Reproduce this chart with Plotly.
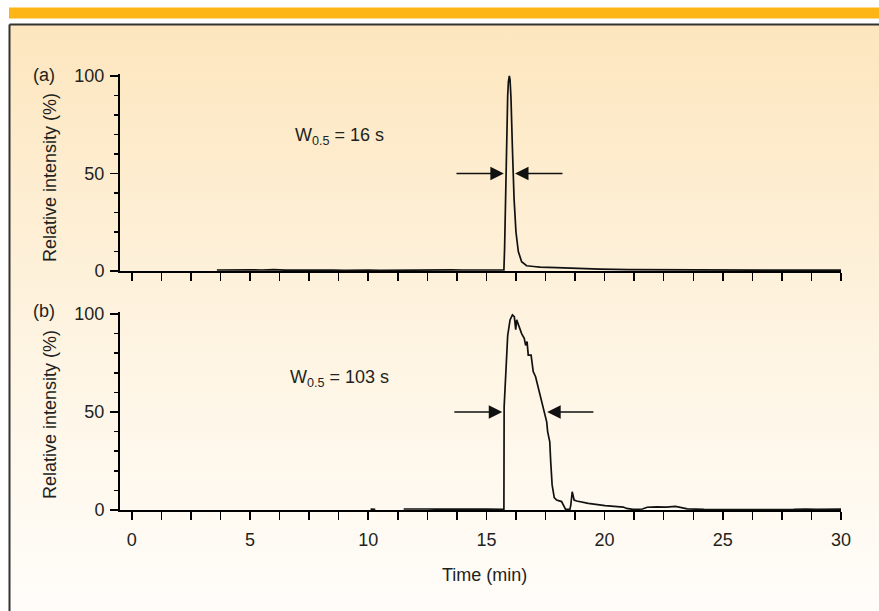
import base64
import plotly.graph_objects as go

# ---------------- data ----------------
a_time = [3.6, 4.0, 4.5, 5.0, 5.5, 6.0, 6.5, 7.0, 7.5, 8.0, 8.5, 9.0, 9.5, 10.0, 10.5,
          11.0, 11.5, 12.0, 12.5, 13.0, 13.5, 14.0, 14.5, 15.0, 15.5, 15.74, 15.77,
          15.81, 15.85, 15.9, 15.93, 15.97, 16.0, 16.04, 16.1, 16.17, 16.25, 16.35,
          16.49, 16.7, 17.0, 17.27, 17.97, 18.67, 19.8, 21.0, 22.0, 23.0, 24.0, 25.0,
          26.0, 27.0, 28.0, 29.0, 30.0]
a_int = [0.5, 0.6, 0.4, 0.6, 0.5, 0.7, 0.4, 0.5, 0.6, 0.4, 0.5, 0.3, 0.5, 0.4, 0.3,
         0.4, 0.5, 0.6, 0.4, 0.5, 0.6, 0.5, 0.4, 0.5, 0.4, 0.5, 12,
         37, 71, 90, 97, 100, 98, 88.6, 63, 37, 20, 10,
         4.8, 2.7, 2.3, 2.0, 1.7, 1.3, 1.0, 0.7, 0.6, 0.5, 0.4, 0.4,
         0.4, 0.4, 0.4, 0.4, 0.4]

b_time = [10.1, 10.3, None, 11.5, 12.0, 12.5, 13.0, 13.5, 14.0, 14.5, 15.0, 15.5,
          15.72, 15.74, 15.75, 15.83, 15.9, 16.0, 16.1, 16.18, 16.24, 16.28, 16.38,
          16.49, 16.6, 16.66, 16.72, 16.77, 16.89, 16.98, 17.08, 17.17, 17.27, 17.36,
          17.48, 17.55, 17.59, 17.64, 17.68, 17.72, 17.78, 17.87, 17.97, 18.18, 18.28,
          18.35, 18.53, 18.57, 18.63, 18.71, 18.82, 19.31, 20.02, 20.79, 20.93, 21.2,
          21.6, 21.8, 22.2, 22.6, 23.0, 23.5, 24.2, 25.0, 26.0, 27.0, 28.0, 28.5,
          29.0, 29.5, 30.0]
b_int = [0.4, 0.3, None, 0.5, 0.6, 0.5, 0.4, 0.5, 0.4, 0.5, 0.4, 0.5,
         0.4, 0.3, 52.7, 74, 89, 97, 99.5, 98.6, 92, 97, 93.5,
         90, 87.6, 84, 85.9, 79, 79, 70.6, 68, 63.8, 58.7, 53.6,
         48.5, 45, 40, 37.4, 34.8, 24.6, 12.8, 6.3, 5.1, 4.3, 1.7,
         0.3, 0.3, 2.5, 9.3, 5.1, 4.6, 3.4, 2.2, 1.5, 0.8, 0.3,
         0.5, 1.4, 1.6, 1.5, 1.8, 0.6, 0.3, 0.2, 0.2, 0.2, 0.3, 0.5,
         0.3, 0.5, 0.4]

# half-width arrows: (tail_x, tip_x, level)
a_arrows = [(13.67, 15.74, 50), (18.28, 16.21, 50)]
b_arrows = [(13.58, 15.67, 50), (19.59, 17.57, 50)]

panel_labels = ["(a)", "(b)"]
width_labels = ["W<sub>0.5</sub> = 16 s", "W<sub>0.5</sub> = 103 s"]
y_title = "Relative intensity (%)"
x_title = "Time (min)"

# ---------------- figure ----------------
W, H = 879, 611
FONT = "Liberation Sans, Arial, Helvetica, sans-serif"
TXT = "#231f20"
FS = 18


def px(x):
    return x / W


def py(y):
    return 1 - y / H


fig = go.Figure()
line = dict(color="#111111", width=1.7)
fig.add_trace(go.Scatter(x=a_time, y=a_int, mode="lines", line=line,
                         xaxis="x", yaxis="y", connectgaps=False, hoverinfo="skip"))
fig.add_trace(go.Scatter(x=b_time, y=b_int, mode="lines", line=line,
                         xaxis="x2", yaxis="y2", connectgaps=False, hoverinfo="skip"))

xdom = [px(120), px(841)]
ya_dom = [py(271), py(271 - 1.95 * 101)]
yb_dom = [py(510), py(510 - 1.96 * 101)]

common_x = dict(domain=xdom, range=[-0.5, 30], tick0=0, dtick=5, ticks="outside",
                ticklen=8, tickwidth=1.5, tickcolor="black", showline=True,
                linewidth=2, linecolor="black", showgrid=False, zeroline=False,
                automargin=False,
                minor=dict(dtick=1.25, tick0=0, ticks="outside", ticklen=8,
                           tickwidth=1.5, tickcolor="black", showgrid=False),
                tickfont=dict(family=FONT, size=FS, color=TXT), fixedrange=True)
common_y = dict(range=[0, 101], tick0=0, dtick=50, ticks="outside", ticklen=8,
                tickwidth=1.5, tickcolor="black", showline=True, linewidth=2,
                linecolor="black", showgrid=False, zeroline=False,
                automargin=False,
                minor=dict(dtick=10, tick0=0, ticks="outside", ticklen=4,
                           tickwidth=1.5, tickcolor="black", showgrid=False),
                tickfont=dict(family=FONT, size=FS, color=TXT),
                ticklabelstandoff=2, fixedrange=True)

fig.update_layout(
    width=W, height=H, margin=dict(l=0, r=0, t=0, b=0, pad=0, autoexpand=False),
    paper_bgcolor="white", plot_bgcolor="rgba(0,0,0,0)", showlegend=False,
    font=dict(family=FONT, size=FS, color=TXT),
    xaxis=dict(common_x, anchor="y", showticklabels=False),
    yaxis=dict(common_y, domain=ya_dom, anchor="x"),
    xaxis2=dict(common_x, anchor="y2", showticklabels=True, ticklabelstandoff=4),
    yaxis2=dict(common_y, domain=yb_dom, anchor="x2"),
)

# background gradient box
svg = ('<svg xmlns="http://www.w3.org/2000/svg" width="870" height="587" '
       'preserveAspectRatio="none"><defs><linearGradient id="g" x1="0" y1="0" '
       'x2="0" y2="1"><stop offset="0" stop-color="#FDE6BE"/>'
       '<stop offset="0.55" stop-color="#FEF4E2"/>'
       '<stop offset="1" stop-color="#FFFDFA"/></linearGradient></defs>'
       '<rect width="870" height="587" fill="url(#g)"/></svg>')
src = "data:image/svg+xml;base64," + base64.b64encode(svg.encode()).decode()
fig.add_layout_image(dict(source=src, xref="paper", yref="paper", x=px(9.5), y=py(24.5),
                          sizex=px(W - 9.5), sizey=(H - 24.5) / H, sizing="stretch",
                          xanchor="left", yanchor="top", layer="below"))

shapes = [
    dict(type="rect", xref="paper", yref="paper", x0=px(9), x1=1.0, y0=py(18.5), y1=py(7.5),
         fillcolor="#FCB514", line=dict(width=0), layer="below"),
    dict(type="line", xref="paper", yref="paper", x0=px(9.5), x1=1.0, y0=py(24.5),
         y1=py(24.5), line=dict(color="#333333", width=2)),
    dict(type="line", xref="paper", yref="paper", x0=px(9.5), x1=px(9.5), y0=0,
         y1=py(24.5), line=dict(color="#333333", width=2)),
]
fig.update_layout(shapes=shapes)

ann = []
# panel letters
for lab, yc in zip(panel_labels, [75, 311]):
    ann.append(dict(text=lab, xref="paper", yref="paper", x=px(44), y=py(yc),
                    showarrow=False, xanchor="center", yanchor="middle",
                    font=dict(family=FONT, size=FS, color=TXT)))
# y titles
for yc in [178, 415]:
    ann.append(dict(text=y_title, xref="paper", yref="paper", x=px(50), y=py(yc),
                    showarrow=False, textangle=-90, xanchor="center", yanchor="middle",
                    font=dict(family=FONT, size=FS, color=TXT)))
# x title
ann.append(dict(text=x_title, xref="paper", yref="paper", x=px(485), y=py(575),
                showarrow=False, xanchor="center", yanchor="middle",
                font=dict(family=FONT, size=FS, color=TXT)))
# width labels
for lab, yc in zip(width_labels, [137, 378]):
    ann.append(dict(text=lab, xref="paper", yref="paper", x=px(339), y=py(yc),
                    showarrow=False, xanchor="center", yanchor="middle",
                    font=dict(family=FONT, size=FS, color=TXT)))
# arrows
for arrows, xr, yr in [(a_arrows, "x", "y"), (b_arrows, "x2", "y2")]:
    for tail, tip, lvl in arrows:
        ann.append(dict(text="", x=tip, y=lvl, ax=tail, ay=lvl, xref=xr, yref=yr,
                        axref=xr, ayref=yr, showarrow=True, arrowhead=2,
                        arrowsize=1.8, arrowwidth=1.5, arrowcolor="#111111",
                        standoff=0, startstandoff=0))
fig.update_layout(annotations=ann)

fig.write_html("out.html",
               config={"displayModeBar": False, "staticPlot": True},
               post_script="document.documentElement.style.margin='0';"
                           "document.body.style.margin='0';"
                           "document.body.style.padding='0';")
